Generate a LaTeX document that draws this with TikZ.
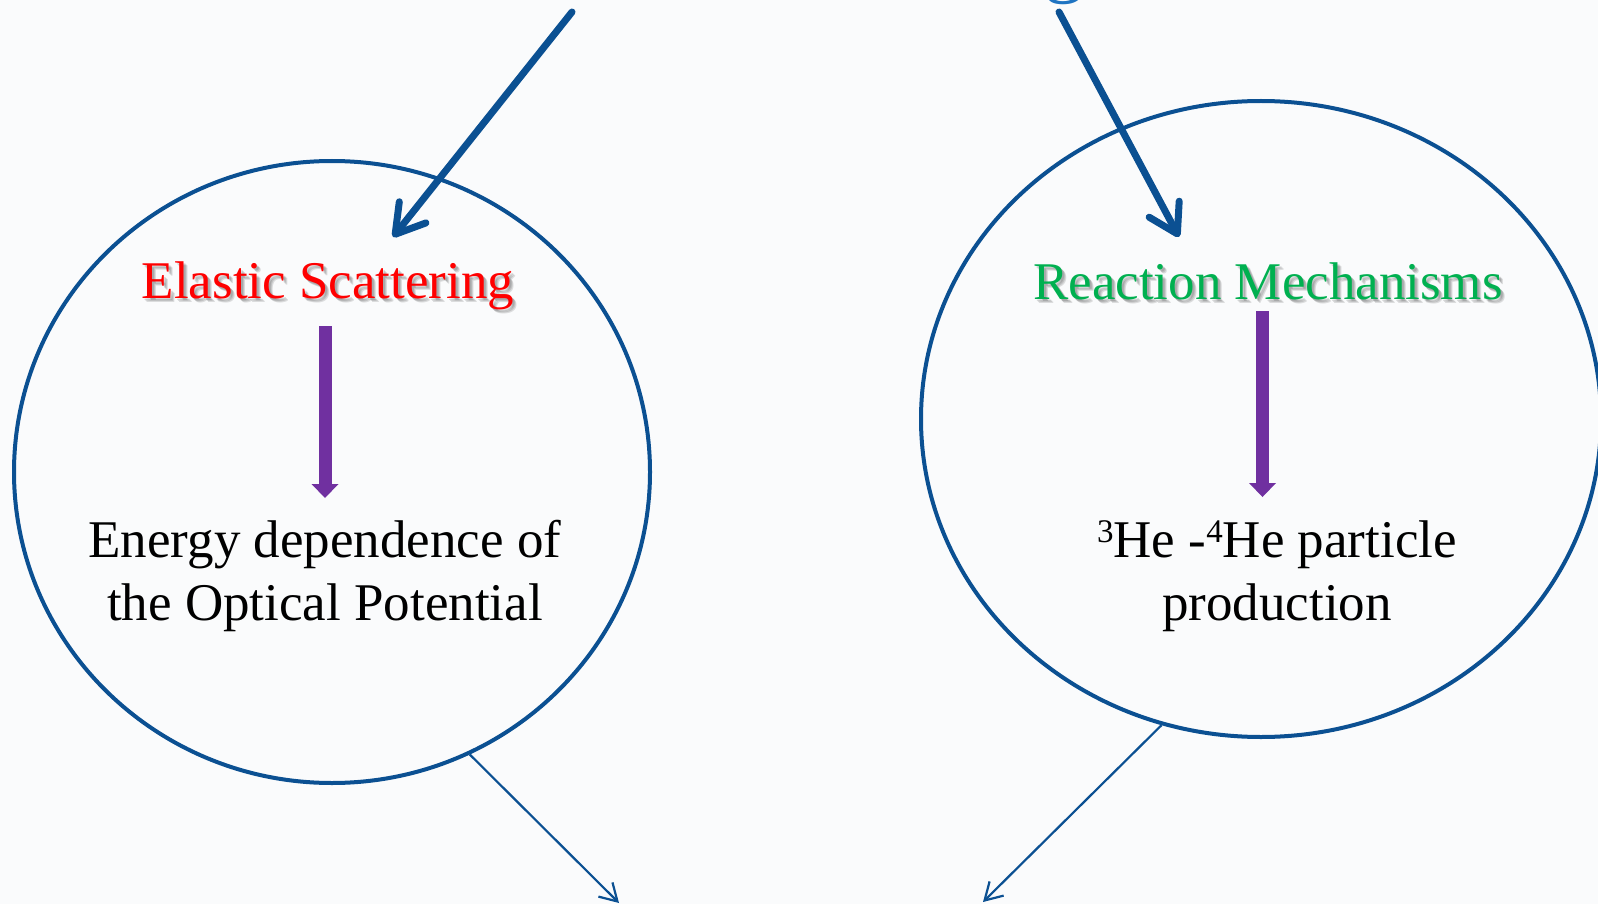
\documentclass[tikz,border=0pt]{standalone}
\usepackage{fontspec}
\setmainfont{Liberation Serif}
\usetikzlibrary{arrows.meta,shapes.geometric}
\definecolor{bgcol}{HTML}{FAFBFC}
\definecolor{ellblue}{HTML}{0B5092}
\definecolor{topblue}{HTML}{1F74C2}
\definecolor{redtitle}{HTML}{FF0000}
\definecolor{greentitle}{HTML}{00B050}
\definecolor{purplearrow}{HTML}{7030A0}
\tikzset{
  ellipsebox/.style={ellipse, draw=ellblue, line width=4pt, inner sep=0pt},
  bigarrow/.style={draw=ellblue, line width=7pt, line cap=round,
    -{Straight Barb[round, length=28pt, width=34pt]}},
  thinarrow/.style={draw=ellblue, line width=2.2pt,
    -{Straight Barb[length=17pt, width=20pt]}},
  purplearr/.style={draw=purplearrow, line width=13pt,
    -{Triangle[length=14pt, width=27pt, line width=0pt]}},
  titlefont/.style={font=\fontsize{53}{63}\selectfont, inner sep=0pt},
  bodytext/.style={font=\fontsize{53}{63}\selectfont, align=center, inner sep=0pt, text=black},
  shadowcopy/.style={titlefont, text=black, opacity=0.12},
}
\newcommand{\shtitle}[4]{% name, x, y, text
  \node[shadowcopy, anchor=base] at (#2+2,#3+2) {#4};
  \node[shadowcopy, anchor=base] at (#2+3,#3+3) {#4};
  \node[shadowcopy, anchor=base] at (#2+4,#3+4) {#4};
}
\newcommand{\supnum}[1]{\raisebox{15pt}{\fontsize{33}{33}\selectfont #1}}
\begin{document}
\begin{tikzpicture}[x=1pt,y=-1pt]
  \useasboundingbox (0,0) rectangle (1598,904);
  \clip (0,0) rectangle (1598,904);
  \fill[bgcol] (0,0) rectangle (1598,904);

  % partially visible text at the top
  \node[font=\fontsize{80}{80}\selectfont, text=topblue, anchor=base, inner sep=0pt] (toptext) at (1064,-12.5) {g};

  % ellipses
  \node[ellipsebox, minimum width=636pt, minimum height=622pt] (L) at (332,472) {};
  \node[ellipsebox, minimum width=680pt, minimum height=636pt] (R) at (1261,419) {};

  % titles with shadows
  \shtitle{et}{328}{298}{Elastic Scattering}
  \node[titlefont, text=redtitle, anchor=base] (et) at (328,298) {Elastic Scattering};
  \shtitle{rt}{1268}{299}{Reaction Mechanisms}
  \node[titlefont, text=greentitle, anchor=base] (rt) at (1268,299) {Reaction Mechanisms};

  % body texts
  \node[bodytext] (lb) at (325,576) {Energy dependence of\\the Optical Potential};
  \node[bodytext] (rb) at (1277,576) {\supnum{3}He -\supnum{4}He particle\\production};

  % coordinates for free ends
  \coordinate (a1s) at (572,12);
  \coordinate (a1t) at (393,237);
  \coordinate (a2s) at (1059,12);
  \coordinate (a2t) at (1179,237);
  \coordinate (p1s) at (325,326);
  \coordinate (p1t) at (325,498);
  \coordinate (p2s) at (1262.5,311);
  \coordinate (p2t) at (1262.5,497);
  \coordinate (t1e) at (619,903);
  \coordinate (t2e) at (983,902);

  % connectors
  \draw[bigarrow] (a1s) -- (a1t);
  \draw[bigarrow] (a2s) -- (a2t);
  \draw[purplearr] (p1s) -- (p1t);
  \draw[purplearr] (p2s) -- (p2t);
  \draw[thinarrow] (L.-64) -- (t1e);
  \draw[thinarrow] (R.-108.3) -- (t2e);
\end{tikzpicture}
\end{document}
